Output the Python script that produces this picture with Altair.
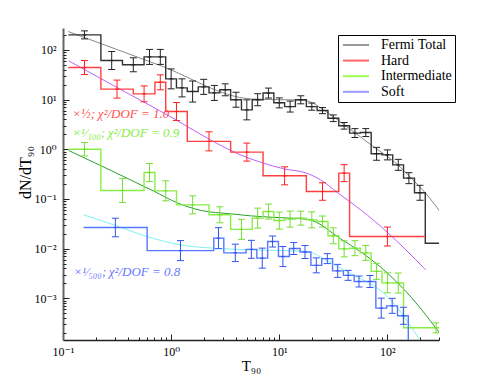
import altair as alt
import pandas as pd

# ---------------- data ----------------
# Fermi total (black histogram): bin edges, bin heights, points with error bars
total_edges = [0.112, 0.224, 0.355, 0.562, 0.708, 0.891, 1.12, 1.41, 1.78, 2.24, 2.82, 3.55,
               4.47, 5.62, 7.08, 8.91, 11.2, 14.1, 17.8, 22.4, 28.2, 35.5, 44.7, 56.2, 70.8,
               89.1, 112, 141, 178, 224, 320]
total_vals = [200, 61, 50, 72, 72, 26, 17.2, 14.5, 18, 13.6, 15.7, 9.9, 6.2, 9.9, 13.5, 8.6,
              7.2, 9.9, 7.2, 6.0, 4.2, 2.96, 2.11, 2.17, 0.81, 0.77, 0.485, 0.262, 0.133, 0.0128]
total_t = [0.158, 0.282, 0.447, 0.631, 0.794, 1.0, 1.26, 1.58, 2.0, 2.51, 3.16, 3.98, 5.01,
           6.31, 7.94, 10, 12.6, 15.8, 20, 25.1, 31.6, 39.8, 50.1, 63.1, 79.4, 100, 126, 158, 200]
total_lo = [166, 40.2, 36.2, 50.9, 50.9, 16.4, 11.3, 8.9, 12.7, 9.6, 11.9, 7.0, 3.9, 7.5, 10.7,
            6.8, 5.6, 8.2, 6.1, 5.2, 3.6, 2.54, 1.72, 1.8, 0.6, 0.61, 0.376, 0.203, 0.094]
total_hi = [241, 92.5, 69.2, 102, 102, 41.3, 26.1, 23.6, 25.5, 19.2, 20.7, 14.0, 9.85, 13.1,
            17.0, 10.8, 9.3, 11.9, 8.5, 6.9, 4.9, 3.45, 2.6, 2.6, 1.09, 0.97, 0.626, 0.338, 0.188]

# Hard (red)
hard_edges = [0.112, 0.224, 0.447, 0.708, 0.891, 1.41, 3.55, 7.08, 17.8, 35.5, 44.7, 224]
hard_vals = [44, 16.2, 13.0, 22.2, 5.74, 1.44, 0.875, 0.292, 0.141, 0.33, 0.0175]
hard_t = [0.158, 0.316, 0.562, 0.794, 1.12, 2.24, 5.01, 11.2, 25.1, 39.8, 100]
hard_lo = [31.8, 10.7, 9.0, 15.7, 3.78, 0.927, 0.577, 0.192, 0.094, 0.223, 0.0113]
hard_hi = [60.9, 24.6, 18.8, 31.4, 8.71, 2.24, 1.33, 0.443, 0.2115, 0.489, 0.0272]

# Intermediate (green)
inter_edges = [0.112, 0.224, 0.562, 0.708, 1.12, 2.24, 3.55, 5.62, 7.08, 8.91, 11.2, 14.1,
               17.8, 22.4, 28.2, 35.5, 44.7, 56.2, 70.8, 89.1, 112, 141, 320]
inter_vals = [1.0, 0.1476, 0.34, 0.1455, 0.076, 0.0479, 0.0244, 0.0411, 0.0557, 0.0367, 0.0393,
              0.0411, 0.0379, 0.0351, 0.0181, 0.0099, 0.0102, 0.0082, 0.00349, 0.00205,
              0.00203, 0.000255]
inter_t = [0.158, 0.355, 0.631, 0.891, 1.58, 2.82, 4.47, 6.31, 7.94, 10, 12.6, 15.8, 20, 25.1,
           31.6, 39.8, 50.1, 63.1, 79.4, 100, 126, 282]
inter_lo = [0.733, 0.0847, 0.224, 0.0916, 0.0501, 0.0331, 0.01536, 0.0259, 0.0394, 0.0247,
            0.0271, 0.0297, 0.0262, 0.0272, 0.0125, 0.00683, 0.00721, 0.0058, 0.00241, 0.00129,
            0.00128, 0.000202]
inter_hi = [1.364, 0.257, 0.516, 0.231, 0.1153, 0.0694, 0.0388, 0.0653, 0.0788, 0.0544, 0.0569,
            0.0568, 0.0549, 0.0453, 0.0262, 0.01434, 0.01443, 0.0116, 0.00506, 0.00326,
            0.00323, 0.000321]

# Soft (blue)
soft_edges = [0.155, 0.6, 2.48, 3.07, 4.93, 6.2, 7.81, 9.83, 12.4, 15.6, 19.6, 24.7, 31.1,
              39.2, 49.3, 62.1, 78.2, 98.4, 124, 156]
soft_vals = [0.0266, 0.00912, 0.01626, 0.00822, 0.00968, 0.00644, 0.0139, 0.00693, 0.01005,
             0.00855, 0.00461, 0.0063, 0.00357, 0.0029, 0.00218, 0.00218, 0.000635, 0.000706,
             0.000445]
soft_t = [0.305, 1.22, 2.74, 3.92, 5.52, 6.96, 8.67, 10.8, 13.6, 17.3, 22, 27.8, 34.7, 43.3,
          54.6, 69, 87.7, 110.7, 140.6]
soft_lo = [0.0173, 0.00574, 0.00999, 0.00549, 0.00638, 0.00405, 0.01078, 0.00436, 0.00761,
           0.00633, 0.00326, 0.005, 0.00264, 0.0023, 0.00169, 0.00165, 0.0004, 0.000499, 0.0003]
soft_hi = [0.0409, 0.01449, 0.02645, 0.0123, 0.01468, 0.01023, 0.01793, 0.01101, 0.01327,
           0.01154, 0.00652, 0.00794, 0.00482, 0.00365, 0.00281, 0.00288, 0.00101, 0.000999,
           0.00066]

# fitted curves
total_fit_t = [0.112, 0.78, 5.42, 8.3, 15.7, 20.3, 25.7, 41.1, 74.6, 119, 183, 241, 312]
total_fit_v = [233, 49, 10.3, 10, 9.77, 8.58, 6.2, 2.96, 1.12, 0.532, 0.211, 0.110, 0.0525]
hard_fit_t = [0.113, 0.78, 5.42, 7.0, 11.0, 17.9, 24.1, 34.7, 56.6, 100, 148, 226]
hard_fit_v = [60.1, 5.98, 0.641, 0.532, 0.403, 0.33, 0.242, 0.133, 0.0604, 0.0213, 0.00946, 0.00374]
inter_fit_t = [0.113, 0.69, 1.14, 1.87, 3.54, 5.42, 8.67, 18.2, 37, 84.9, 168, 312]
inter_fit_v = [0.942, 0.1435, 0.0835, 0.059, 0.0501, 0.0457, 0.0427, 0.0389, 0.01574, 0.0044,
               0.00102, 0.000185]
soft_fit_t = [0.155, 0.294, 0.6, 1.22, 2.48, 5.42, 18.2, 26.8, 41.1, 63, 86.7, 122, 175, 203]
soft_fit_v = [0.0479, 0.0301, 0.0175, 0.0119, 0.0102, 0.00946, 0.00875, 0.00596, 0.00357,
              0.0022, 0.00142, 0.000675, 0.000222, 0.000139]

# annotations
ann_text = ["×½;\u2009χ²/DOF = 1.0", "×¹⁄₁₀₀;\u2009χ²/DOF = 0.9", "×¹⁄₅₀₀;\u2009χ²/DOF = 0.8"]
ann_t = [0.122, 0.122, 0.125]
ann_v = [4.3, 1.78, 0.00284]

legend_names = ["Fermi Total", "Hard", "Intermediate", "Soft"]

x_tick_vals = [0.1, 1, 10, 100]
x_tick_labels = ["10⁻¹", "10⁰", "10¹", "10²"]
y_tick_vals = [0.001, 0.01, 0.1, 1, 10, 100]
y_tick_labels = ["10⁻³", "10⁻²", "10⁻¹", "10⁰", "10¹", "10²"]
x_minor = [m * 10 ** e for e in (-1, 0, 1) for m in range(2, 10)] + [200, 300]
y_minor = [m * 10 ** e for e in (-4, -3, -2, -1, 0, 1, 2) for m in range(2, 10)
           if 1.45e-4 <= m * 10 ** e <= 275]

# ---------------- styling ----------------
W, H = 376, 312
FONT = "'Liberation Serif', 'Times New Roman', 'DejaVu Serif', serif"
legend_colors = ["#999999", "#ff6666", "#99ff55", "#9999ff"]
step_colors = ["#333333", "#ff4040", "#88ee44", "#5577ff"]
err_colors = ["#222222", "#ff2020", "#77dd33", "#3355ee"]
fit_colors = ["#888888", "#c060ff", "#2e9e2e", "#80f0f0"]
ann_colors = ["#ff5050", "#88ee44", "#6677ff"]

xs = alt.Scale(type="log", domain=[0.1, 300], nice=False)
ys = alt.Scale(type="log", domain=[1.45e-4, 275], nice=False)


def X(f="t"):
    return alt.X(f"{f}:Q", scale=xs, axis=None)


def Y(f="v"):
    return alt.Y(f"{f}:Q", scale=ys, axis=None)


def label_expr(vals, labels):
    expr = f"'{labels[-1]}'"
    for i in range(len(vals) - 2, -1, -1):
        expr = f"datum.value < {vals[i] * 1.5} ? '{labels[i]}' : ({expr})"
    return expr


def step_chart(edges, vals, color, drop=False):
    vv = list(vals) + [1e-7 if drop else vals[-1]]
    df = pd.DataFrame({"t": list(edges), "v": vv})
    return alt.Chart(df).mark_line(interpolate="step-after", color=color, strokeWidth=1.4,
                                   clip=True).encode(x=X(), y=Y())


def err_charts(t, v, lo, hi, color):
    df = pd.DataFrame({"t": t, "v": v, "lo": lo, "hi": hi})
    b = alt.Chart(df)
    out = [b.mark_rule(color=color, strokeWidth=1, clip=True).encode(x=X(), y=Y("lo"), y2="hi:Q")]
    for f, s in (("lo", 7), ("hi", 7), ("v", 4)):
        out.append(b.mark_tick(orient="horizontal", size=s, thickness=1, color=color, opacity=1,
                               clip=True).encode(x=X(), y=Y(f)))
    return out


def fit_chart(t, v, color):
    df = pd.DataFrame({"t": t, "v": v})
    return alt.Chart(df).mark_line(interpolate="monotone", color=color, strokeWidth=1,
                                   clip=True).encode(x=X(), y=Y())


dummy = pd.DataFrame({"t": [1.0], "v": [1.0], "series": [legend_names[0]]})
ax_base = alt.Chart(dummy).transform_filter("false")

axis_layer = ax_base.mark_line().encode(
    x=alt.X("t:Q", scale=xs, axis=alt.Axis(
        orient="bottom", values=x_tick_vals, labelExpr=label_expr(x_tick_vals, x_tick_labels),
        ticks=False, grid=False, domainColor="#222222", domainWidth=1.5, labelFont=FONT,
        labelFontSize=12, labelColor="black", labelPadding=6, labelFlush=False,
        title="T₉₀", titleFont=FONT, titleFontSize=15, titleFontWeight="normal",
        titleColor="black", titleBaseline="top", titleY=18)),
    y=alt.Y("v:Q", scale=ys, axis=alt.Axis(
        orient="left", values=y_tick_vals, labelExpr=label_expr(y_tick_vals, y_tick_labels),
        ticks=False, grid=False, domainColor="#666666", domainWidth=2, labelFont=FONT,
        labelFontSize=12, labelColor="black", labelPadding=7, labelFlush=False,
        title="dN/dT₉₀", titleFont=FONT, titleFontSize=16, titleFontWeight="normal",
        titleColor="black", titleAngle=270, titleX=-30, titleY=144, titleAlign="center",
        titleBaseline="bottom")),
    color=alt.Color("series:N", scale=alt.Scale(domain=legend_names, range=legend_colors),
                    legend=alt.Legend(
                        title=None, orient="none", legendX=275, legendY=7, direction="vertical",
                        symbolType="M-3.25,0H3.25", symbolSize=64, symbolStrokeWidth=2,
                        symbolOffset=8, labelOffset=18, labelFont=FONT, labelFontSize=14,
                        labelColor="black", padding=3, rowPadding=1.6, strokeColor="black",
                        fillColor="white", labelLimit=300)),
)


def tick_layer(xv, yv, size):
    return ax_base.mark_line().encode(
        x=alt.X("t:Q", scale=xs, axis=alt.Axis(
            orient="top", offset=-H, values=xv, labels=False, domain=False, grid=False,
            ticks=True, tickSize=size, tickColor="#222222", tickWidth=1, title="")),
        y=alt.Y("v:Q", scale=ys, axis=alt.Axis(
            orient="right", offset=-W, values=yv, labels=False, domain=False, grid=False,
            ticks=True, tickSize=size, tickColor="#222222", tickWidth=1, title="")),
    )


layers = [axis_layer, tick_layer(x_tick_vals, y_tick_vals, 6), tick_layer(x_minor, y_minor, 3)]

layers += [fit_chart(total_fit_t, total_fit_v, fit_colors[0]),
           fit_chart(hard_fit_t, hard_fit_v, fit_colors[1]),
           fit_chart(inter_fit_t, inter_fit_v, fit_colors[2]),
           fit_chart(soft_fit_t, soft_fit_v, fit_colors[3])]

layers += [step_chart(total_edges, total_vals, step_colors[0]),
           step_chart(hard_edges, hard_vals, step_colors[1]),
           step_chart(inter_edges, inter_vals, step_colors[2]),
           step_chart(soft_edges, soft_vals, step_colors[3], drop=True)]

layers += err_charts(total_t, total_vals[:len(total_t)], total_lo, total_hi, err_colors[0])
layers += err_charts(hard_t, hard_vals, hard_lo, hard_hi, err_colors[1])
layers += err_charts(inter_t, inter_vals, inter_lo, inter_hi, err_colors[2])
layers += err_charts(soft_t, soft_vals, soft_lo, soft_hi, err_colors[3])

for i in range(3):
    df = pd.DataFrame({"t": [ann_t[i]], "v": [ann_v[i]], "label": [ann_text[i]]})
    layers.append(alt.Chart(df).mark_text(align="left", baseline="alphabetic", font=FONT,
                                          fontStyle="italic", fontSize=13,
                                          color=ann_colors[i]).encode(
        x=X(), y=Y(), text="label:N"))

chart = alt.layer(*layers).resolve_axis(x="independent", y="independent").properties(
    width=W, height=H, autosize=alt.AutoSizeParams(type="none"),
    padding={"left": 55, "top": 20, "right": 30, "bottom": 40},
).configure(font=FONT).configure_view(stroke="transparent")

chart.save("out.html", embed_options={"renderer": "svg", "actions": False})
